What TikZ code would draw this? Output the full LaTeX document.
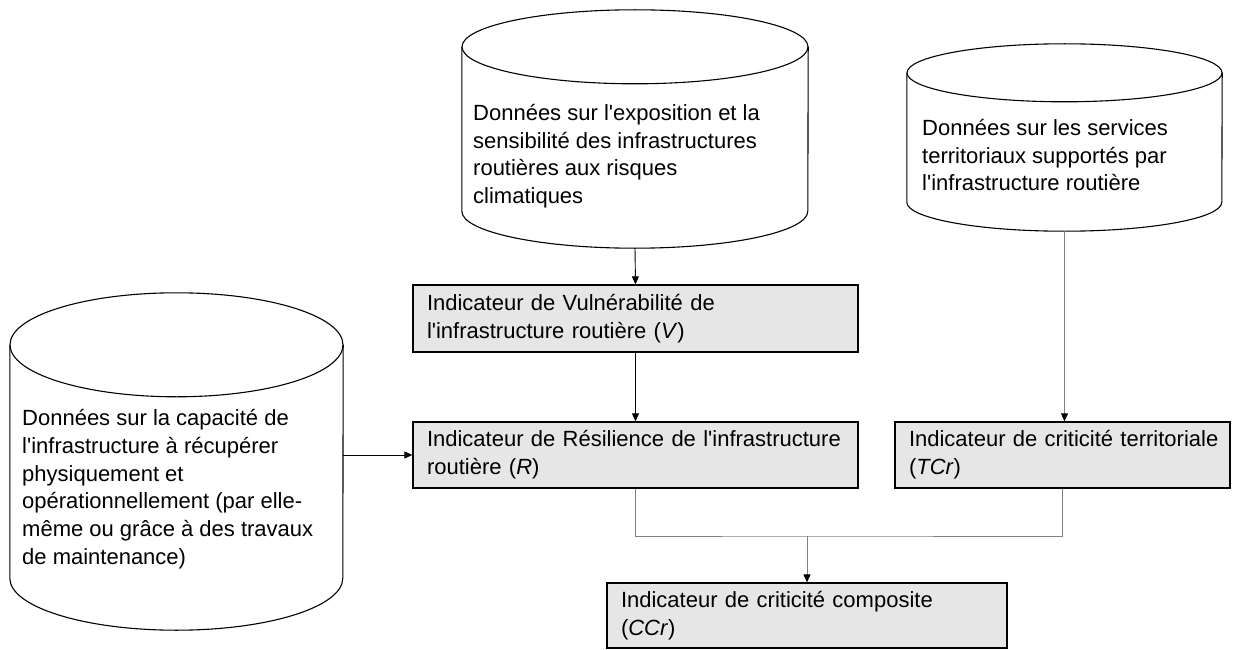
\documentclass[tikz,border=0pt]{standalone}
\usepackage{fontspec}
\newfontfamily\lab{Liberation Sans}
\usetikzlibrary{arrows.meta}
\definecolor{boxgray}{RGB}{230,230,230}
\definecolor{linegray}{RGB}{128,128,128}

\begin{document}
\begin{tikzpicture}[x=1pt, y=-1pt,
    font=\lab\fontsize{22}{27.8}\selectfont,
    corps/.style={inner sep=0pt},
    cyl/.style={line width=1.1pt},
    txt/.style={anchor=north west, inner sep=0pt, align=left},
    indic/.style={draw, line width=1.3pt, fill=boxgray, align=left, inner xsep=14pt},
    fl/.style={line width=0.9pt, -{Triangle[length=8pt, width=7pt, color=black]}}]
  \useasboundingbox (0,0) rectangle (1234,650);

  % bases de donnees
  \node[corps, minimum width=346pt, minimum height=238pt] (expo) at (635,129) {};
  \node[corps, minimum width=315pt, minimum height=187pt] (serv) at (1064.5,137.5) {};
  \node[corps, minimum width=333pt, minimum height=337pt] (capa) at (176.5,461.5) {};

  \draw[cyl] ([yshift=-37pt]expo.north) ellipse [x radius=173pt, y radius=37pt];
  \draw[cyl] ([yshift=-37pt]expo.north west) -- ([yshift=37pt]expo.south west)
    arc[start angle=180, end angle=360, x radius=173pt, y radius=37pt] -- ([yshift=-37pt]expo.north east);
  \draw[cyl] ([yshift=-29pt]serv.north) ellipse [x radius=157.5pt, y radius=29pt];
  \draw[cyl] ([yshift=-29pt]serv.north west) -- ([yshift=29pt]serv.south west)
    arc[start angle=180, end angle=360, x radius=157.5pt, y radius=29pt] -- ([yshift=-29pt]serv.north east);
  \draw[cyl] ([yshift=-52pt]capa.north) ellipse [x radius=166.5pt, y radius=52pt];
  \draw[cyl] ([yshift=-52pt]capa.north west) -- ([yshift=52pt]capa.south west)
    arc[start angle=180, end angle=360, x radius=166.5pt, y radius=52pt] -- ([yshift=-52pt]capa.north east);

  \node[txt] (texpo) at (473,104) {Données sur l'exposition et la\\sensibilité des infrastructures\\routières aux risques\\climatiques};
  \node[txt] (tserv) at (922,119) {Données sur les services\\territoriaux supportés par\\l'infrastructure routière};
  \node[txt] (tcapa) at (22,409) {Données sur la capacité de\\l'infrastructure à récupérer\\physiquement et\\opérationnellement (par elle-\\même ou grâce à des travaux\\de maintenance)};

  % indicateurs
  \node[indic, text width=417pt, minimum height=67pt] (vuln) at (635.5,318.5) {Indicateur de Vulnérabilité de\\l'infrastructure routière (\textit{V})};
  \node[indic, text width=417pt, minimum height=66pt] (resil) at (635.5,455) {Indicateur de Résilience de l'infrastructure\\routière (\textit{R})};
  \node[indic, text width=307pt, minimum height=66pt] (terr) at (1062.5,455) {\mbox{Indicateur de criticité territoriale}\\(\textit{TCr})};
  \node[indic, text width=372pt, minimum height=65pt] (comp) at (807,615.5) {Indicateur de criticité composite\\(\textit{CCr})};

  \draw[fl] (expo.south) -- (vuln.north);
  \draw[fl] (vuln.south) -- (resil.north);
  \draw[fl, linegray] (serv.south) -- (serv.south |- terr.north);
  \draw[fl] (capa.east |- resil.west) -- (resil.west);

  \coordinate (merge) at (807,536);
  \draw[line width=0.9pt, linegray] (resil.south) |- (merge) -| (terr.south);
  \draw[fl, linegray] (merge) -- (comp.north);
\end{tikzpicture}
\end{document}
